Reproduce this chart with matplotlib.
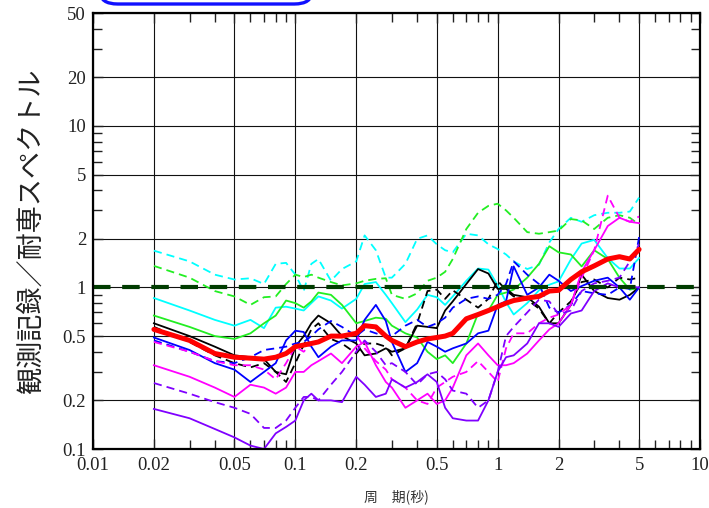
import matplotlib
matplotlib.use("Agg")
import matplotlib.pyplot as plt
from matplotlib.ticker import FixedLocator, NullFormatter, FixedFormatter
from matplotlib.patches import FancyBboxPatch

periods = [0.02, 0.03, 0.04, 0.05, 0.06, 0.07, 0.08, 0.09, 0.1, 0.11, 0.12, 0.13,
           0.15, 0.17, 0.2, 0.22, 0.25, 0.28, 0.3, 0.35, 0.4, 0.45, 0.5, 0.55,
           0.6, 0.7, 0.8, 0.9, 1.0, 1.1, 1.2, 1.4, 1.6, 1.8, 2.0, 2.3, 2.6, 3.0,
           3.5, 4.0, 4.5, 5.0]

cyan_dashed = [1.69, 1.45, 1.2, 1.12, 1.14, 1.05, 1.4, 1.42, 1.2, 0.95, 1.4, 1.5,
               1.1, 1.3, 1.45, 2.1, 1.7, 1.15, 1.15, 1.4, 2.0, 2.1, 1.85, 1.7,
               1.65, 2.15, 2.1, 1.85, 1.73, 1.6, 1.45, 1.3, 1.38, 1.9, 2.3, 2.7,
               2.55, 2.8, 2.9, 2.9, 2.95, 3.6]
cyan_solid = [0.86, 0.72, 0.63, 0.58, 0.63, 0.56, 0.75, 0.76, 0.74, 0.72, 0.8, 0.88,
              0.83, 0.74, 0.85, 1.05, 1.08, 0.9, 0.8, 0.61, 0.73, 0.9, 0.87, 0.78,
              0.88, 1.1, 1.31, 1.29, 1.03, 0.81, 0.68, 0.8, 0.96, 1.04, 1.09, 1.49,
              1.87, 1.97, 1.52, 1.31, 1.31, 1.52]
green_dashed = [1.36, 1.15, 0.95, 0.88, 0.78, 0.87, 0.88, 1.05, 1.2, 1.16, 1.2, 1.15,
                1.08, 1.03, 1.06, 1.1, 1.13, 1.14, 0.9, 0.85, 0.92, 1.1, 1.15, 1.25,
                1.5, 2.3, 2.9, 3.2, 3.3, 3.0, 2.7, 2.2, 2.15, 2.2, 2.25, 2.65,
                2.6, 2.3, 2.7, 2.8, 2.7, 2.45]
green_solid = [0.67, 0.57, 0.5, 0.48, 0.52, 0.6, 0.67, 0.83, 0.8, 0.75, 0.82, 0.93,
               0.9, 0.78, 0.6, 0.62, 0.65, 0.64, 0.58, 0.52, 0.49, 0.4, 0.36, 0.38,
               0.34, 0.45, 0.69, 0.72, 0.9, 0.93, 0.97, 1.15, 1.4, 1.8, 1.65, 1.6,
               1.35, 1.7, 1.5, 1.15, 0.97, 0.99]
black_solid = [0.6, 0.5, 0.43, 0.38, 0.37, 0.36, 0.3, 0.29, 0.43, 0.5, 0.6, 0.67,
               0.6, 0.5, 0.45, 0.38, 0.39, 0.42, 0.4, 0.42, 0.58, 0.57, 0.56, 0.72,
               0.82, 1.05, 1.3, 1.22, 0.98, 0.98, 0.9, 0.87, 0.76, 0.6, 0.6, 0.78,
               1.2, 0.95, 0.86, 0.84, 0.9, 1.0]
black_dashed = [0.57, 0.46, 0.38, 0.34, 0.32, 0.34, 0.3, 0.26, 0.34, 0.44, 0.55, 0.6,
                0.48, 0.45, 0.39, 0.45, 0.45, 0.43, 0.38, 0.42, 0.6, 0.95, 0.97, 0.85,
                0.96, 0.84, 0.75, 0.85, 1.1, 0.96, 0.88, 0.84, 0.74, 0.6, 0.7, 0.82,
                1.08, 1.12, 1.0, 1.15, 1.12, 1.15]
blue_solid = [0.49, 0.41, 0.34, 0.31, 0.26, 0.3, 0.34, 0.47, 0.54, 0.53, 0.43, 0.37,
              0.43, 0.47, 0.47, 0.63, 0.78, 0.62, 0.46, 0.3, 0.34, 0.46, 0.43, 0.4,
              0.42, 0.45, 0.52, 0.54, 0.78, 0.82, 1.35, 0.9, 1.0, 1.2, 1.1, 0.95,
              1.02, 1.1, 1.15, 1.0, 0.84, 1.0]
blue_dashed = [0.47, 0.4, 0.35, 0.34, 0.37, 0.41, 0.42, 0.43, 0.45, 0.46, 0.5, 0.55,
               0.62, 0.57, 0.5, 0.55, 0.52, 0.5, 0.5, 0.58, 0.63, 0.57, 0.6, 0.65,
               0.75, 0.85, 0.88, 0.85, 0.9, 1.05, 1.45, 1.2, 1.05, 0.75, 0.7, 0.78,
               0.95, 0.92, 0.9, 1.0, 0.98, 2.05]
magenta_solid = [0.33, 0.28, 0.24, 0.21, 0.25, 0.24, 0.22, 0.24, 0.3, 0.3, 0.33, 0.35,
                 0.39, 0.34, 0.43, 0.46, 0.33, 0.26, 0.24, 0.18, 0.2, 0.22, 0.19, 0.2,
                 0.24, 0.38, 0.45, 0.38, 0.33, 0.33, 0.34, 0.39, 0.47, 0.55, 0.6, 0.78,
                 1.25, 1.7, 2.4, 2.7, 2.55, 2.5]
magenta_dashed = [0.46, 0.4, 0.35, 0.33, 0.33, 0.31, 0.27, 0.34, 0.43, 0.4, 0.45, 0.47,
                  0.49, 0.51, 0.51, 0.42, 0.35, 0.31, 0.27, 0.24, 0.2, 0.19, 0.24, 0.26,
                  0.28, 0.3, 0.35, 0.3, 0.26, 0.42, 0.52, 0.52, 0.6, 0.65, 0.68, 0.78,
                  1.15, 1.7, 3.7, 2.7, 2.55, 2.75]
purple_solid = [0.177, 0.155, 0.133, 0.118, 0.105, 0.1, 0.125, 0.137, 0.15, 0.2, 0.22, 0.2,
                0.2, 0.195, 0.28, 0.25, 0.21, 0.22, 0.27, 0.24, 0.26, 0.29, 0.26, 0.18,
                0.155, 0.15, 0.15, 0.2, 0.3, 0.37, 0.38, 0.45, 0.6, 0.6, 0.57, 0.69,
                0.72, 0.95, 1.06, 1.0, 1.01, 1.0]
purple_dashed = [0.256, 0.22, 0.195, 0.18, 0.165, 0.135, 0.135, 0.15, 0.18, 0.21, 0.21, 0.2,
                 0.25, 0.3, 0.4, 0.47, 0.4, 0.33, 0.34, 0.3, 0.25, 0.29, 0.3, 0.27,
                 0.23, 0.22, 0.18, 0.2, 0.3, 0.5, 0.57, 0.7, 0.84, 0.82, 0.68, 0.72,
                 0.95, 1.06, 1.1, 1.15, 1.45, 1.85]
mean_ratio = [0.55, 0.47, 0.39, 0.37, 0.365, 0.36, 0.37, 0.39, 0.43, 0.44, 0.45, 0.46,
              0.5, 0.5, 0.52, 0.58, 0.57, 0.5, 0.47, 0.43, 0.46, 0.48, 0.49, 0.5,
              0.52, 0.64, 0.68, 0.72, 0.76, 0.8, 0.83, 0.86, 0.88, 0.95, 0.96, 1.12,
              1.25, 1.36, 1.5, 1.55, 1.5, 1.72]
reference_level = 1.0

x_ticks = [0.01, 0.02, 0.05, 0.1, 0.2, 0.5, 1, 2, 5, 10]
x_tick_labels = ["0.01", "0.02", "0.05", "0.1", "0.2", "0.5", "1", "2", "5", "10"]
y_ticks = [0.1, 0.2, 0.5, 1, 2, 5, 10, 20, 50]
y_tick_labels = ["0.1", "0.2", "0.5", "1", "2", "5", "10", "20", "50"]

fig = plt.figure(figsize=(7.09, 5.08), dpi=100)
ax = fig.add_axes([93/709, 1-449/508, 607/709, 436/508])
ax.set_xscale("log")
ax.set_yscale("log")
ax.set_xlim(0.01, 10)
ax.set_ylim(0.1, 50)

thin = 1.3
dash = (4.5, 2.8)
series = [
    (cyan_dashed, "#00ffff", True),
    (cyan_solid, "#00ffff", False),
    (green_dashed, "#22ee22", True),
    (green_solid, "#22ee22", False),
    (black_solid, "#000000", False),
    (black_dashed, "#000000", True),
    (blue_solid, "#0000ff", False),
    (blue_dashed, "#0000ff", True),
    (magenta_solid, "#ff00ff", False),
    (magenta_dashed, "#ff00ff", True),
    (purple_solid, "#8000ff", False),
    (purple_dashed, "#8000ff", True),
]
for vals, col, dashed in series:
    line, = ax.plot(periods, vals, color=col, lw=thin, zorder=3)
    if dashed:
        line.set_dashes(dash)

hl = ax.axhline(reference_level, color="#003c00", lw=3.0, zorder=4)
hl.set_dashes((4.2, 2.8))
ax.plot(periods, mean_ratio, color="#ff0000", lw=3.6, zorder=5, solid_capstyle="round")

# grid and ticks
ax.xaxis.set_major_locator(FixedLocator(x_ticks))
ax.xaxis.set_major_formatter(FixedFormatter(x_tick_labels))
ax.yaxis.set_major_locator(FixedLocator(y_ticks))
ax.yaxis.set_major_formatter(FixedFormatter(y_tick_labels))
minor_x = [m * d for d in (0.01, 0.1, 1) for m in (3, 4, 6, 7, 8, 9)]
minor_y = [m * d for d in (0.1, 1, 10) for m in (3, 4, 6, 7, 8, 9)]
ax.xaxis.set_minor_locator(FixedLocator(minor_x))
ax.yaxis.set_minor_locator(FixedLocator(minor_y))
ax.xaxis.set_minor_formatter(NullFormatter())
ax.yaxis.set_minor_formatter(NullFormatter())
ax.grid(True, which="major", color="#111111", lw=0.8, zorder=1)
ax.tick_params(which="both", direction="in", top=True, right=True, width=1.0,
               color="#222222")
ax.tick_params(which="major", length=7)
ax.tick_params(which="minor", length=6.5)
ax.tick_params(axis="x", which="major", pad=6)
ax.tick_params(axis="y", which="major", pad=5)
for lab in ax.get_xticklabels() + ax.get_yticklabels():
    lab.set_fontfamily("Liberation Serif")
    lab.set_fontsize(13.5)
    lab.set_color("#222222")
for sp in ax.spines.values():
    sp.set_linewidth(1.6)
    sp.set_zorder(6)

ax.set_ylabel("観測記録／耐専スペクトル", family=["Noto Sans CJK JP", "DejaVu Sans"],
              fontsize=19.5, color="#222222", labelpad=12)
ax.set_xlabel("周　期(秒)", family=["Noto Sans CJK JP", "DejaVu Sans"],
              fontsize=10, color="#333333", labelpad=11)

# legend frame (cut off at the top of the figure)
box = FancyBboxPatch((100/709, 1-4/508), 212/709, 0.08,
                     boxstyle="round,pad=0,rounding_size=0.025",
                     transform=fig.transFigure, facecolor="white",
                     edgecolor="#1010ff", lw=2.4, clip_on=False)
fig.patches.append(box)

fig.savefig("out.png", dpi=100)
